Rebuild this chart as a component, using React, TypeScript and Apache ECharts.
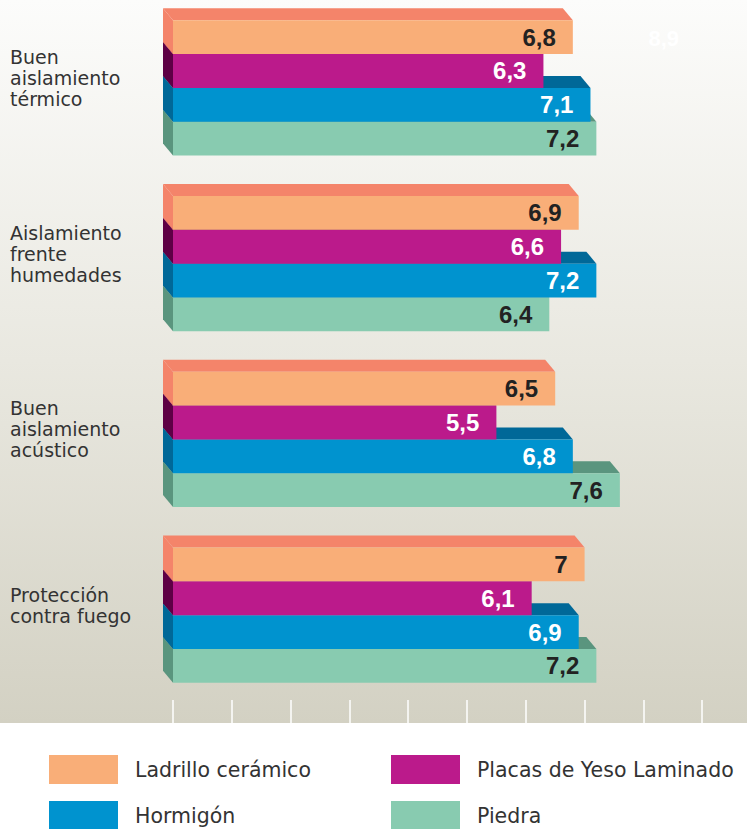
import React, { useEffect, useRef } from "react";
import * as echarts from "echarts";

const categories = [
  "Buen\naislamiento\ntérmico",
  "Aislamiento\nfrente\nhumedades",
  "Buen\naislamiento\nacústico",
  "Protección\ncontra fuego",
];
const seriesNames = ["Ladrillo cerámico", "Placas de Yeso Laminado", "Hormigón", "Piedra"];
const ladrillo = [6.8, 6.9, 6.5, 7];
const placas = [6.3, 6.6, 5.5, 6.1];
const hormigon = [7.1, 7.2, 6.8, 6.9];
const piedra = [7.2, 6.4, 7.6, 7.2];
const xTicks = [0, 1, 2, 3, 4, 5, 6, 7, 8, 9];
const xMax = 9.762;

const frontColors = ["#f9ae78", "#bb1a8b", "#0093cf", "#88cbb0"];
const sideColors = ["#f4846a", "#5e0045", "#006898", "#5a957e"];
const topColors = ["#f4846a", "#5e0045", "#006898", "#5a957e"];
const labelColors = ["#222222", "#ffffff", "#ffffff", "#222222"];

const fmt = (v: number) => String(v).replace(".", ",");

export default function App() {
  const ref = useRef<HTMLDivElement>(null);
  useEffect(() => {
    document.body.style.margin = "0";
    if (!ref.current) return;
    const chart = echarts.init(ref.current, undefined, { renderer: "svg" });
    const allValues = [ladrillo, placas, hormigon, piedra];

    const makeSeries = (k: number) => ({
      type: "custom",
      name: seriesNames[k],
      z: 10 - k,
      encode: { x: 0, y: 1 },
      data: allValues[k].map((v, i) => [v, i]),
      renderItem: (params: any, api: any) => {
        const v = api.value(0);
        const c = api.value(1);
        const p0 = api.coord([0, c]);
        const p1 = api.coord([v, c]);
        const band = api.size([0, 1])[1];
        const h = band * (33.75 / 175.7);
        const center = p0[1];
        const top = center - 2 * h + k * h;
        const x0 = p0[0];
        const x1 = p1[0];
        const dx = -10;
        const dy = -12;
        return {
          type: "group",
          children: [
            {
              type: "polygon",
              shape: { points: [[x0, top], [x0 + dx, top + dy], [x1 + dx, top + dy], [x1, top]] },
              style: { fill: topColors[k] },
            },
            {
              type: "polygon",
              shape: { points: [[x0, top], [x0 + dx, top + dy], [x0 + dx, top + h + dy], [x0, top + h]] },
              style: { fill: sideColors[k] },
            },
            {
              type: "rect",
              shape: { x: x0, y: top, width: x1 - x0, height: h },
              style: { fill: frontColors[k] },
            },
            {
              type: "text",
              x: x1 - 17,
              y: top + h / 2,
              style: {
                text: fmt(v),
                fill: labelColors[k],
                font: "bold 24px 'Liberation Sans Narrow', 'Liberation Sans', sans-serif",
                align: "right",
                verticalAlign: "middle",
                textAlign: "right",
                textVerticalAlign: "middle",
              },
            },
          ],
        };
      },
    });

    chart.setOption({
      animation: false,
      grid: { left: 173, top: 0, right: 0, height: 703 },
      xAxis: {
        type: "value",
        min: 0,
        max: xMax,
        interval: 1,
        offset: -3,
        axisLine: { show: false },
        splitLine: { show: false },
        axisLabel: { show: false },
        axisTick: {
          show: true,
          length: 23,
          customValues: xTicks,
          lineStyle: { color: "#ffffff", width: 1.5 },
        },
      },
      yAxis: {
        type: "category",
        inverse: true,
        data: categories,
        axisLine: { show: false },
        axisTick: { show: false },
        axisLabel: { show: false },
      },
      series: [0, 1, 2, 3].map(makeSeries),
    });

    const graphics: any[] = [];
    categories.forEach((cat, i) => {
      const y = chart.convertToPixel({ yAxisIndex: 0 }, i) as number;
      graphics.push({
        type: "text",
        x: 10,
        y: y - 10,
        style: {
          text: cat,
          fill: "#333333",
          font: "19px 'DejaVu Sans', sans-serif",
          lineHeight: 21,
          align: "left",
          textAlign: "left",
          verticalAlign: "middle",
          textVerticalAlign: "middle",
        },
      });
    });

    const legendPos = [
      [49, 755],
      [391, 755],
      [49, 801],
      [391, 801],
    ];
    seriesNames.forEach((n, k) => {
      const [lx, ly] = legendPos[k];
      graphics.push({
        type: "rect",
        shape: { x: lx, y: ly, width: 69, height: 29 },
        style: { fill: frontColors[k] },
      });
      graphics.push({
        type: "text",
        x: lx + 86,
        y: ly + 15,
        style: {
          text: n,
          fill: "#333333",
          font: "20.5px 'DejaVu Sans', sans-serif",
          textVerticalAlign: "middle",
          verticalAlign: "middle",
        },
      });
    });
    graphics.push({
      type: "text",
      x: 679,
      y: 38,
      style: {
        text: "8,9",
        fill: "#ffffff",
        font: "bold 22px 'Liberation Sans Narrow', 'Liberation Sans', sans-serif",
        align: "right",
        textAlign: "right",
        verticalAlign: "middle",
        textVerticalAlign: "middle",
      },
    });
    chart.setOption({ graphic: graphics });

    return () => chart.dispose();
  }, []);
  return (
    <div
      ref={ref}
      style={{
        width: 747,
        height: 829,
        background:
          "linear-gradient(to bottom, #fcfcfb 0px, #e9e8e0 360px, #d3d1c3 723px, #ffffff 723px, #ffffff 829px)",
      }}
    />
  );
}
